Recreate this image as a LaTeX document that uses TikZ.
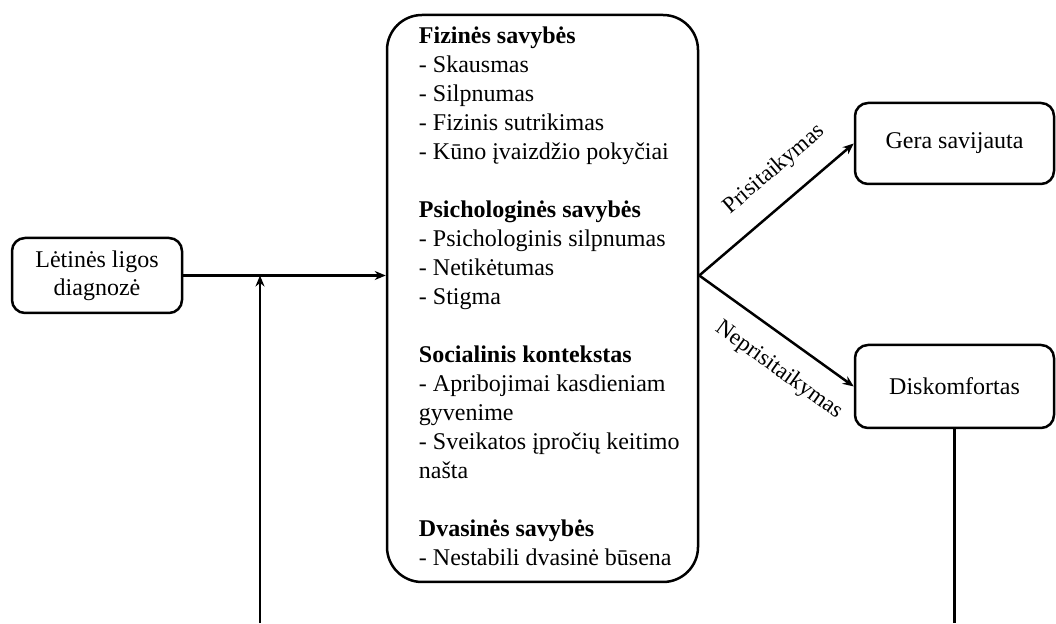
\documentclass[tikz,border=0pt]{standalone}
\usepackage{fontspec}
\setmainfont{Liberation Serif}
\usetikzlibrary{arrows.meta, positioning, calc}

\tikzset{
  roundbox/.style={draw, line width=2.5pt, rounded corners=13pt, align=center,
    font=\fontsize{24}{28}\selectfont},
  flow/.style={line width=2.5pt, -{Stealth[length=11pt, width=9pt]}},
  flowline/.style={line width=2.5pt},
  flowlabel/.style={font=\fontsize{23}{27}\selectfont, sloped, inner sep=2pt},
}

\begin{document}
\begin{tikzpicture}[x=1pt, y=1pt]
  \useasboundingbox (0,0) rectangle (1056,623);

  % Diagnosis
  \node[roundbox, minimum width=170pt, minimum height=75pt] (diag) at (97,347.5)
    {Lėtinės ligos\\diagnozė};

  % Factors
  \node[roundbox, rounded corners=35pt, minimum width=311pt, minimum height=567pt]
    (factors) at (542.5,324.5) {};
  \node[anchor=north west, inner sep=0pt, align=left, font=\fontsize{24}{29}\selectfont]
    (factorlist) at ([xshift=33pt, yshift=-13pt]factors.north west) {%
    \textbf{Fizinės savybės}\\
    - Skausmas\\
    - Silpnumas\\
    - Fizinis sutrikimas\\
    - Kūno įvaizdžio pokyčiai\\[29pt]
    \textbf{Psichologinės savybės}\\
    - Psichologinis silpnumas\\
    - Netikėtumas\\
    - Stigma\\[29pt]
    \textbf{Socialinis kontekstas}\\
    - Apribojimai kasdieniam\\
    gyvenime\\
    - Sveikatos įpročių keitimo\\
    našta\\[29pt]
    \textbf{Dvasinės savybės}\\
    - Nestabili dvasinė būsena};

  % Outcomes
  \node[roundbox, minimum width=199pt, minimum height=81pt] (good) at (954.5,479.5)
    {Gera savijauta};
  \node[roundbox, minimum width=199pt, minimum height=83pt] (discomfort) at (954.5,236.5)
    {Diskomfortas};

  % Connectors
  \coordinate (split) at (diag.east -| factors.east);
  \coordinate (feedin) at (260,0);
  \coordinate (feedout) at (discomfort.south |- feedin);

  \draw[flow] (diag.east) -- (diag.east -| factors.west);
  \draw[flow] (feedin) -- (feedin |- diag.east);
  \draw[flow] (split) -- node[flowlabel, above=18pt, pos=0.62] (adaptlbl) {Prisitaikymas} (good.west);
  \draw[flow] (split) -- node[flowlabel, below=17pt, pos=0.63] (misadaptlbl) {Neprisitaikymas} (discomfort.west);
  \draw[flowline] (discomfort.south) -- (feedout);
\end{tikzpicture}
\end{document}
